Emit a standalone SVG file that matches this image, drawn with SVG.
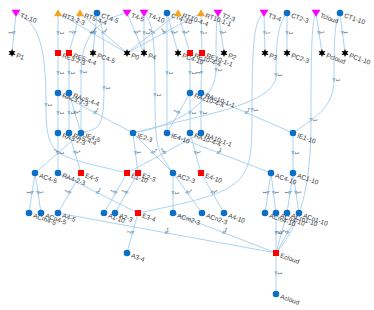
<svg xmlns="http://www.w3.org/2000/svg" width="374" height="310" viewBox="0 0 374 310">
<style>
.e{fill:none;stroke:#a4cdee;stroke-width:.9;marker-mid:url(#ar)}
.el{font-family:"Liberation Sans",Arial,sans-serif;font-size:5.5px;fill:#555;text-anchor:middle}
.nl{font-family:"Liberation Sans",Arial,sans-serif;font-size:6.5px;fill:#3a3a3a}
</style>
<defs>
<marker id="ar" viewBox="0 0 10 10" refX="5" refY="5" markerWidth="4.5" markerHeight="4.5" markerUnits="userSpaceOnUse" orient="auto"><path d="M0,1 L10,5 L0,9 z" fill="#86bce6"/></marker>
<polygon id="td" points="-4.5,-3.2 4.5,-3.2 0,3.8" fill="#f0f"/>
<polygon id="tu" points="-4,3.2 4,3.2 0,-3.8" fill="#f5a31a"/>
<circle id="ci" r="3.3" fill="#0b6fc3"/>
<rect id="sq" x="-3" y="-3" width="6" height="6" fill="#f00"/>
<polygon id="st" points="0,-4 1,-1.73 3.46,-2 2,0 3.46,2 1,1.73 0,4 -1,1.73 -3.46,2 -2,0 -3.46,-2 -1,-1.73" fill="#000"/>
</defs>
<rect width="374" height="310" fill="#fff"/>
<g id="edges">
<path class="e" d="M16,13L14,33L12,53"/>
<path class="e" d="M58,13L58,33L58,53"/>
<path class="e" d="M58,13L92.5,33L127,53"/>
<path class="e" d="M80,13L74.5,33L69,53"/>
<path class="e" d="M80,13L103.5,33L127,53"/>
<path class="e" d="M97,13L95,33L93,53"/>
<path class="e" d="M127,13L135.5,33L144,53"/>
<path class="e" d="M144,13L144,33L144,53"/>
<path class="e" d="M167,13L172.5,33L178,53"/>
<path class="e" d="M178,13L152.5,33L127,53"/>
<path class="e" d="M201,13L164,33L127,53"/>
<path class="e" d="M178,13L184,33L190,53"/>
<path class="e" d="M201,13L201.5,33L202,53"/>
<path class="e" d="M218,13L221,33L224,53"/>
<path class="e" d="M264,13L264.5,33L265,53"/>
<path class="e" d="M287,13L287,33L287,53"/>
<path class="e" d="M316,13L319,33L322,53"/>
<path class="e" d="M340,13L342.5,33L345,53"/>
<path class="e" d="M58,53L58,73L58,93"/>
<path class="e" d="M69,53L69,73L69,93"/>
<path class="e" d="M190,53L190,73L190,93"/>
<path class="e" d="M202,53L201.5,73L201,93"/>
<path class="e" d="M58,93L58,113L58,133"/>
<path class="e" d="M69,93L69,113L69,133"/>
<path class="e" d="M190,93L190,113L190,133"/>
<path class="e" d="M201,93L201,113L201,133"/>
<path class="e" d="M58,93L95.5,113L133,133"/>
<path class="e" d="M69,93L75,113L81,133"/>
<path class="e" d="M190,93L178.5,113L167,133"/>
<path class="e" d="M201,93L247,113L293,133"/>
<path class="e" d="M167,13L167,73L167,133"/>
<path class="e" d="M58,133L58,153L58,173"/>
<path class="e" d="M69,133L75,153L81,173"/>
<path class="e" d="M81,133L58,153L35,173"/>
<path class="e" d="M190,133L195.5,153L201,173"/>
<path class="e" d="M201,133L164,153L127,173"/>
<path class="e" d="M133,133L135.5,153L138,173"/>
<path class="e" d="M133,133L153,153L173,173"/>
<path class="e" d="M167,133L219,153L271,173"/>
<path class="e" d="M293,133L293,153L293,173"/>
<path class="e" d="M35,173L32,193L29,213"/>
<path class="e" d="M35,173L38,193L41,213"/>
<path class="e" d="M81,173L69.5,193L58,213"/>
<path class="e" d="M127,173L115.5,193L104,213"/>
<path class="e" d="M138,173L126.5,193L115,213"/>
<path class="e" d="M173,173L173,193L173,213"/>
<path class="e" d="M173,173L187.5,193L202,213"/>
<path class="e" d="M201,173L212.5,193L224,213"/>
<path class="e" d="M271,173L268,193L265,213"/>
<path class="e" d="M271,173L273.5,193L276,213"/>
<path class="e" d="M293,173L290,193L287,213"/>
<path class="e" d="M293,173L296,193L299,213"/>
<path class="e" d="M138,213L132.5,233L127,253"/>
<path class="e" d="M58,173L98,193L138,213"/>
<path class="e" d="M58,213L167,233L276,253"/>
<path class="e" d="M173,213L224.5,233L276,253"/>
<path class="e" d="M276,213L276,233L276,253"/>
<path class="e" d="M287,213L281.5,233L276,253"/>
<path class="e" d="M299,213L287.5,233L276,253"/>
<path class="e" d="M276,253L276,273.5L276,294"/>
<path class="e" d="M97,13C104,25 104,45 104,88S98,128 81,133"/>
<path class="e" d="M16,13C40,22 46,50 46,105S55,155 127,173"/>
<path class="e" d="M127,13C100,19 81,35 81,72S81,120 81,133"/>
<path class="e" d="M144,13C153,22 155,40 155,95S157,150 173,173"/>
<path class="e" d="M287,13C277,25 276,45 276,75S200,115 133,133"/>
<path class="e" d="M218,13C216,25 216,40 216,70S180,125 133,133"/>
<path class="e" d="M264,13C255,20 252,35 252,110S252,190 138,213"/>
<path class="e" d="M316,13C312,22 311,40 311,120C311,190 300,225 276,253"/>
<path class="e" d="M340,13C335,22 334,35 334,80C334,110 310,120 293,133"/>
<text class="el" transform="translate(10.5,32.7) rotate(-84.3)" y="2">1</text>
<text class="el" transform="translate(61.5,33) rotate(90)" y="2">1</text>
<text class="el" transform="translate(94.3,30) rotate(30.1)" y="2">1</text>
<text class="el" transform="translate(71.1,32.1) rotate(-74.6)" y="2">1</text>
<text class="el" transform="translate(105.8,30.3) rotate(40.4)" y="2">1</text>
<text class="el" transform="translate(91.5,32.7) rotate(-84.3)" y="2">1</text>
<text class="el" transform="translate(138.7,31.6) rotate(67)" y="2">1</text>
<text class="el" transform="translate(147.5,33) rotate(90)" y="2">1</text>
<text class="el" transform="translate(175.9,32.1) rotate(74.6)" y="2">1</text>
<text class="el" transform="translate(150.3,30.2) rotate(-38.1)" y="2">1</text>
<text class="el" transform="translate(162.3,29.9) rotate(-28.4)" y="2">1</text>
<text class="el" transform="translate(187.4,32) rotate(73.3)" y="2">1</text>
<text class="el" transform="translate(205,32.9) rotate(88.6)" y="2">1</text>
<text class="el" transform="translate(224.5,32.5) rotate(81.5)" y="2">1</text>
<text class="el" transform="translate(268,32.9) rotate(88.6)" y="2">1</text>
<text class="el" transform="translate(290.5,33) rotate(90)" y="2">1</text>
<text class="el" transform="translate(322.5,32.5) rotate(81.5)" y="2">1</text>
<text class="el" transform="translate(346,32.6) rotate(82.9)" y="2">1</text>
<text class="el" transform="translate(61.5,73) rotate(90)" y="2">1</text>
<text class="el" transform="translate(72.5,73) rotate(90)" y="2">1</text>
<text class="el" transform="translate(193.5,73) rotate(90)" y="2">1</text>
<text class="el" transform="translate(198,72.9) rotate(-88.6)" y="2">1</text>
<text class="el" transform="translate(61.5,113) rotate(90)" y="2">1</text>
<text class="el" transform="translate(72.5,113) rotate(90)" y="2">1</text>
<text class="el" transform="translate(193.5,113) rotate(90)" y="2">1</text>
<text class="el" transform="translate(204.5,113) rotate(90)" y="2">1</text>
<text class="el" transform="translate(97.1,109.9) rotate(28.1)" y="2">1</text>
<text class="el" transform="translate(78.4,112) rotate(73.3)" y="2">1</text>
<text class="el" transform="translate(175.5,111.3) rotate(-60.1)" y="2">1</text>
<text class="el" transform="translate(248.4,109.8) rotate(23.5)" y="2">1</text>
<text class="el" transform="translate(170.5,73) rotate(90)" y="2">1</text>
<text class="el" transform="translate(61.5,153) rotate(90)" y="2">1</text>
<text class="el" transform="translate(78.4,152) rotate(73.3)" y="2">1</text>
<text class="el" transform="translate(55.7,150.4) rotate(-41)" y="2">1</text>
<text class="el" transform="translate(198.9,152.1) rotate(74.6)" y="2">1</text>
<text class="el" transform="translate(162.3,149.9) rotate(-28.4)" y="2">1</text>
<text class="el" transform="translate(139,152.6) rotate(82.9)" y="2">1</text>
<text class="el" transform="translate(155.5,150.5) rotate(45)" y="2">1</text>
<text class="el" transform="translate(220.3,149.7) rotate(21)" y="2">1</text>
<text class="el" transform="translate(296.5,153) rotate(90)" y="2">1</text>
<text class="el" transform="translate(28.5,192.5) rotate(-81.5)" y="2">1</text>
<text class="el" transform="translate(41.5,192.5) rotate(81.5)" y="2">1</text>
<text class="el" transform="translate(66.5,191.3) rotate(-60.1)" y="2">1</text>
<text class="el" transform="translate(112.5,191.3) rotate(-60.1)" y="2">1</text>
<text class="el" transform="translate(123.5,191.3) rotate(-60.1)" y="2">1</text>
<text class="el" transform="translate(176.5,193) rotate(90)" y="2">1</text>
<text class="el" transform="translate(190.3,191) rotate(54.1)" y="2">1</text>
<text class="el" transform="translate(215.5,191.3) rotate(60.1)" y="2">1</text>
<text class="el" transform="translate(264.5,192.5) rotate(-81.5)" y="2">1</text>
<text class="el" transform="translate(277,192.6) rotate(82.9)" y="2">1</text>
<text class="el" transform="translate(286.5,192.5) rotate(-81.5)" y="2">1</text>
<text class="el" transform="translate(299.5,192.5) rotate(81.5)" y="2">1</text>
<text class="el" transform="translate(129.1,232.1) rotate(-74.6)" y="2">1</text>
<text class="el" transform="translate(99.6,189.9) rotate(26.6)" y="2">1</text>
<text class="el" transform="translate(167.6,229.6) rotate(10.4)" y="2">1</text>
<text class="el" transform="translate(225.8,229.7) rotate(21.2)" y="2">1</text>
<text class="el" transform="translate(279.5,233) rotate(90)" y="2">1</text>
<text class="el" transform="translate(278.1,232.1) rotate(-74.6)" y="2">1</text>
<text class="el" transform="translate(284.5,231.3) rotate(-60.1)" y="2">1</text>
<text class="el" transform="translate(279.5,273.5) rotate(90)" y="2">1</text>
<text class="el" transform="translate(107.5,88) rotate(90)" y="2">1</text>
<text class="el" transform="translate(49.5,105) rotate(90)" y="2">1</text>
<text class="el" transform="translate(84.5,72) rotate(90)" y="2">1</text>
<text class="el" transform="translate(158.5,95) rotate(90)" y="2">1</text>
<text class="el" transform="translate(279.5,75) rotate(90)" y="2">1</text>
<text class="el" transform="translate(219.5,70) rotate(90)" y="2">1</text>
<text class="el" transform="translate(255.5,110) rotate(90)" y="2">1</text>
<text class="el" transform="translate(314.5,120) rotate(90)" y="2">1</text>
<text class="el" transform="translate(337.5,80) rotate(90)" y="2">1</text>
</g>
<g id="nodes">
<g id="T1-10"><use href="#td" x="16" y="13"/><text class="nl" transform="translate(20.5,15) rotate(20)" y="2.3">T1-10</text></g>
<g id="RT3-2-3"><use href="#tu" x="58" y="13"/><text class="nl" transform="translate(62.5,15) rotate(20)" y="2.3">RT3-2-3</text></g>
<g id="RT5-4-4"><use href="#tu" x="80" y="13"/><text class="nl" transform="translate(84.5,15) rotate(20)" y="2.3">RT5-4-4</text></g>
<g id="CT4-5"><use href="#ci" x="97" y="13"/><text class="nl" transform="translate(101.5,15) rotate(20)" y="2.3">CT4-5</text></g>
<g id="T4-5"><use href="#td" x="127" y="13"/><text class="nl" transform="translate(131.5,15) rotate(20)" y="2.3">T4-5</text></g>
<g id="T4-10"><use href="#td" x="144" y="13"/><text class="nl" transform="translate(148.5,15) rotate(20)" y="2.3">T4-10</text></g>
<g id="CT4-10"><use href="#ci" x="167" y="13"/><text class="nl" transform="translate(171.5,15) rotate(20)" y="2.3">CT4-10</text></g>
<g id="RT10-4-4"><use href="#tu" x="178" y="13"/><text class="nl" transform="translate(182.5,15) rotate(20)" y="2.3">RT10-4-4</text></g>
<g id="RT10-1-1"><use href="#tu" x="201" y="13"/><text class="nl" transform="translate(205.5,15) rotate(20)" y="2.3">RT10-1-1</text></g>
<g id="T2-3"><use href="#td" x="218" y="13"/><text class="nl" transform="translate(222.5,15) rotate(20)" y="2.3">T2-3</text></g>
<g id="T3-4"><use href="#td" x="264" y="13"/><text class="nl" transform="translate(268.5,15) rotate(20)" y="2.3">T3-4</text></g>
<g id="CT2-3"><use href="#ci" x="287" y="13"/><text class="nl" transform="translate(291.5,15) rotate(20)" y="2.3">CT2-3</text></g>
<g id="Tcloud"><use href="#td" x="316" y="13"/><text class="nl" transform="translate(320.5,15) rotate(20)" y="2.3">Tcloud</text></g>
<g id="CT1-10"><use href="#ci" x="340" y="13"/><text class="nl" transform="translate(344.5,15) rotate(20)" y="2.3">CT1-10</text></g>
<g id="P1"><use href="#st" x="12" y="53"/><text class="nl" transform="translate(16.5,55) rotate(20)" y="2.3">P1</text></g>
<g id="RE3-2-3"><use href="#sq" x="58" y="53"/><text class="nl" transform="translate(62.5,55) rotate(20)" y="2.3">RE3-2-3</text></g>
<g id="RE5-4-4"><use href="#sq" x="69" y="53"/><text class="nl" transform="translate(73.5,55) rotate(20)" y="2.3">RE5-4-4</text></g>
<g id="PC4-5"><use href="#st" x="93" y="53"/><text class="nl" transform="translate(97.5,55) rotate(20)" y="2.3">PC4-5</text></g>
<g id="P0"><use href="#st" x="127" y="53"/><text class="nl" transform="translate(131.5,55) rotate(20)" y="2.3">P0</text></g>
<g id="P4"><use href="#st" x="144" y="53"/><text class="nl" transform="translate(148.5,55) rotate(20)" y="2.3">P4</text></g>
<g id="PC4-10"><use href="#st" x="178" y="53"/><text class="nl" transform="translate(182.5,55) rotate(20)" y="2.3">PC4-10</text></g>
<g id="RE10-4-4"><use href="#sq" x="190" y="53"/><text class="nl" transform="translate(194.5,55) rotate(20)" y="2.3">RE10-4-4</text></g>
<g id="RE10-1-1"><use href="#sq" x="202" y="53"/><text class="nl" transform="translate(206.5,55) rotate(20)" y="2.3">RE10-1-1</text></g>
<g id="P2"><use href="#st" x="224" y="53"/><text class="nl" transform="translate(228.5,55) rotate(20)" y="2.3">P2</text></g>
<g id="P3"><use href="#st" x="265" y="53"/><text class="nl" transform="translate(269.5,55) rotate(20)" y="2.3">P3</text></g>
<g id="PC2-3"><use href="#st" x="287" y="53"/><text class="nl" transform="translate(291.5,55) rotate(20)" y="2.3">PC2-3</text></g>
<g id="Pcloud"><use href="#st" x="322" y="53"/><text class="nl" transform="translate(326.5,55) rotate(20)" y="2.3">Pcloud</text></g>
<g id="PC1-10"><use href="#st" x="345" y="53"/><text class="nl" transform="translate(349.5,55) rotate(20)" y="2.3">PC1-10</text></g>
<g id="RAc3-2-3"><use href="#ci" x="58" y="93"/><text class="nl" transform="translate(62.5,95) rotate(20)" y="2.3">RAc3-2-3</text></g>
<g id="RAc5-4-4"><use href="#ci" x="69" y="93"/><text class="nl" transform="translate(73.5,95) rotate(20)" y="2.3">RAc5-4-4</text></g>
<g id="RAc10-4-4"><use href="#ci" x="190" y="93"/><text class="nl" transform="translate(194.5,95) rotate(20)" y="2.3">RAc10-4-4</text></g>
<g id="RAc10-1-1"><use href="#ci" x="201" y="93"/><text class="nl" transform="translate(205.5,95) rotate(20)" y="2.3">RAc10-1-1</text></g>
<g id="RA3-2-3"><use href="#ci" x="58" y="133"/><text class="nl" transform="translate(62.5,135) rotate(20)" y="2.3">RA3-2-3</text></g>
<g id="RA5-4-4"><use href="#ci" x="69" y="133"/><text class="nl" transform="translate(73.5,135) rotate(20)" y="2.3">RA5-4-4</text></g>
<g id="IE4-5"><use href="#ci" x="81" y="133"/><text class="nl" transform="translate(85.5,135) rotate(20)" y="2.3">IE4-5</text></g>
<g id="IE2-3"><use href="#ci" x="133" y="133"/><text class="nl" transform="translate(137.5,135) rotate(20)" y="2.3">IE2-3</text></g>
<g id="IE4-10"><use href="#ci" x="167" y="133"/><text class="nl" transform="translate(171.5,135) rotate(20)" y="2.3">IE4-10</text></g>
<g id="RA10-4-4"><use href="#ci" x="190" y="133"/><text class="nl" transform="translate(194.5,135) rotate(20)" y="2.3">RA10-4-4</text></g>
<g id="RA10-1-1"><use href="#ci" x="201" y="133"/><text class="nl" transform="translate(205.5,135) rotate(20)" y="2.3">RA10-1-1</text></g>
<g id="IE1-10"><use href="#ci" x="293" y="133"/><text class="nl" transform="translate(297.5,135) rotate(20)" y="2.3">IE1-10</text></g>
<g id="AC4-5"><use href="#ci" x="35" y="173"/><text class="nl" transform="translate(39.5,175) rotate(20)" y="2.3">AC4-5</text></g>
<g id="RA4-2-3"><use href="#ci" x="58" y="173"/><text class="nl" transform="translate(62.5,175) rotate(20)" y="2.3">RA4-2-3</text></g>
<g id="E4-5"><use href="#sq" x="81" y="173"/><text class="nl" transform="translate(85.5,175) rotate(20)" y="2.3">E4-5</text></g>
<g id="E1-10"><use href="#sq" x="127" y="173"/><text class="nl" transform="translate(131.5,175) rotate(20)" y="2.3">E1-10</text></g>
<g id="E2-3"><use href="#sq" x="138" y="173"/><text class="nl" transform="translate(142.5,175) rotate(20)" y="2.3">E2-3</text></g>
<g id="AC2-3"><use href="#ci" x="173" y="173"/><text class="nl" transform="translate(177.5,175) rotate(20)" y="2.3">AC2-3</text></g>
<g id="E4-10"><use href="#sq" x="201" y="173"/><text class="nl" transform="translate(205.5,175) rotate(20)" y="2.3">E4-10</text></g>
<g id="AC4-10"><use href="#ci" x="271" y="173"/><text class="nl" transform="translate(275.5,175) rotate(20)" y="2.3">AC4-10</text></g>
<g id="AC1-10"><use href="#ci" x="293" y="173"/><text class="nl" transform="translate(297.5,175) rotate(20)" y="2.3">AC1-10</text></g>
<g id="ACm4-5"><use href="#ci" x="29" y="213"/><text class="nl" transform="translate(33.5,215) rotate(20)" y="2.3">ACm4-5</text></g>
<g id="ACn4-5"><use href="#ci" x="41" y="213"/><text class="nl" transform="translate(45.5,215) rotate(20)" y="2.3">ACn4-5</text></g>
<g id="A4-5"><use href="#ci" x="58" y="213"/><text class="nl" transform="translate(62.5,215) rotate(20)" y="2.3">A4-5</text></g>
<g id="A1-10"><use href="#ci" x="104" y="213"/><text class="nl" transform="translate(108.5,215) rotate(20)" y="2.3">A1-10</text></g>
<g id="A2-3"><use href="#ci" x="115" y="213"/><text class="nl" transform="translate(119.5,215) rotate(20)" y="2.3">A2-3</text></g>
<g id="E3-4"><use href="#sq" x="138" y="213"/><text class="nl" transform="translate(142.5,215) rotate(20)" y="2.3">E3-4</text></g>
<g id="ACm2-3"><use href="#ci" x="173" y="213"/><text class="nl" transform="translate(177.5,215) rotate(20)" y="2.3">ACm2-3</text></g>
<g id="ACn2-3"><use href="#ci" x="202" y="213"/><text class="nl" transform="translate(206.5,215) rotate(20)" y="2.3">ACn2-3</text></g>
<g id="A4-10"><use href="#ci" x="224" y="213"/><text class="nl" transform="translate(228.5,215) rotate(20)" y="2.3">A4-10</text></g>
<g id="ACm4-10"><use href="#ci" x="265" y="213"/><text class="nl" transform="translate(269.5,215) rotate(20)" y="2.3">ACm4-10</text></g>
<g id="ACn4-10"><use href="#ci" x="276" y="213"/><text class="nl" transform="translate(280.5,215) rotate(20)" y="2.3">ACn4-10</text></g>
<g id="ACm1-10"><use href="#ci" x="287" y="213"/><text class="nl" transform="translate(291.5,215) rotate(20)" y="2.3">ACm1-10</text></g>
<g id="ACn1-10"><use href="#ci" x="299" y="213"/><text class="nl" transform="translate(303.5,215) rotate(20)" y="2.3">ACn1-10</text></g>
<g id="A3-4"><use href="#ci" x="127" y="253"/><text class="nl" transform="translate(131.5,255) rotate(20)" y="2.3">A3-4</text></g>
<g id="Ecloud"><use href="#sq" x="276" y="253"/><text class="nl" transform="translate(280.5,255) rotate(20)" y="2.3">Ecloud</text></g>
<g id="Acloud"><use href="#ci" x="276" y="294"/><text class="nl" transform="translate(280.5,296) rotate(20)" y="2.3">Acloud</text></g>
</g>
</svg>
